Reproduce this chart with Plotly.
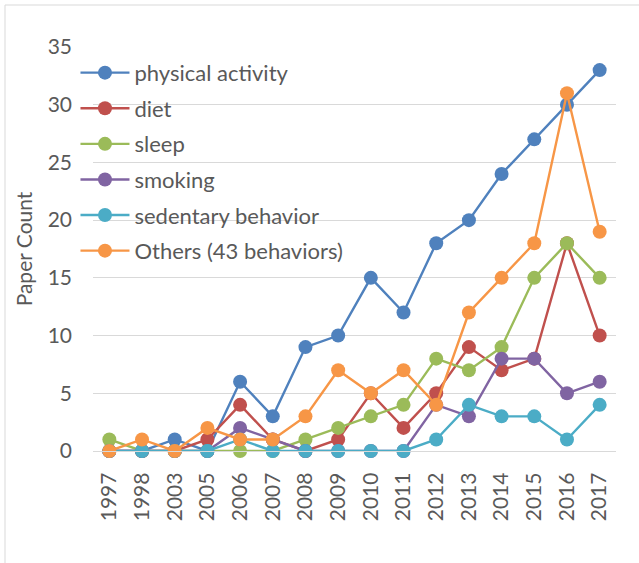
import plotly.graph_objects as go

years = ["1997", "1998", "2003", "2005", "2006", "2007", "2008", "2009",
         "2010", "2011", "2012", "2013", "2014", "2015", "2016", "2017"]

physical_activity = [0, 0, 1, 0, 6, 3, 9, 10, 15, 12, 18, 20, 24, 27, 30, 33]
diet = [0, 0, 0, 1, 4, 1, 0, 1, 5, 2, 5, 9, 7, 8, 18, 10]
sleep = [1, 0, 0, 0, 0, 0, 1, 2, 3, 4, 8, 7, 9, 15, 18, 15]
smoking = [0, 0, 0, 0, 2, 1, 0, 0, 0, 0, 4, 3, 8, 8, 5, 6]
sedentary = [0, 0, 0, 0, 1, 0, 0, 0, 0, 0, 1, 4, 3, 3, 1, 4]
others = [0, 1, 0, 2, 1, 1, 3, 7, 5, 7, 4, 12, 15, 18, 31, 19]

series = [
    ("physical activity", physical_activity, "#4F81BD"),
    ("diet", diet, "#C0504D"),
    ("sleep", sleep, "#9BBB59"),
    ("smoking", smoking, "#8064A2"),
    ("sedentary behavior", sedentary, "#4BACC6"),
    ("Others (43 behaviors)", others, "#F79646"),
]

fig = go.Figure()
for name, vals, color in series:
    fig.add_trace(go.Scatter(
        x=years, y=vals, name=name, mode="lines+markers", legendgroup=name,
        line=dict(color=color, width=2.4),
        marker=dict(color=color, size=14),
        cliponaxis=False,
    ))

font = "Lato, 'Open Sans', sans-serif"
fig.update_layout(
    width=639, height=563,
    paper_bgcolor="white", plot_bgcolor="white",
    margin=dict(l=93, r=23, t=47, b=112),
    font=dict(family=font, size=21, color="#595959"),
    showlegend=True,
    legend=dict(x=-0.0335, y=0.988, xanchor="left", yanchor="top",
                bgcolor="rgba(0,0,0,0)", tracegroupgap=4, itemwidth=49,
                font=dict(size=22, color="#595959")),
    yaxis=dict(range=[0, 35], dtick=5, showgrid=True, gridcolor="#D9D9D9",
               gridwidth=1.3, zeroline=False, showline=False,
               ticklabelstandoff=20,
               title=dict(text="Paper Count", standoff=9,
                          font=dict(size=21, color="#595959"))),
    xaxis=dict(type="category", tickangle=-90, showgrid=False,
               showline=True, linecolor="#D9D9D9", linewidth=1.3,
               ticklabelstandoff=12, range=[-0.5, 15.5]),
)

# light border around the whole chart area
fig.add_shape(type="rect", xref="paper", yref="paper",
              x0=-88 / 523, x1=1 + 24 / 523, y0=-120 / 404, y1=1 + 42 / 404,
              line=dict(color="#D9D9D9", width=1))

fig.write_html("out.html", config={"displayModeBar": False},
               post_script="document.body.style.margin='0';")
